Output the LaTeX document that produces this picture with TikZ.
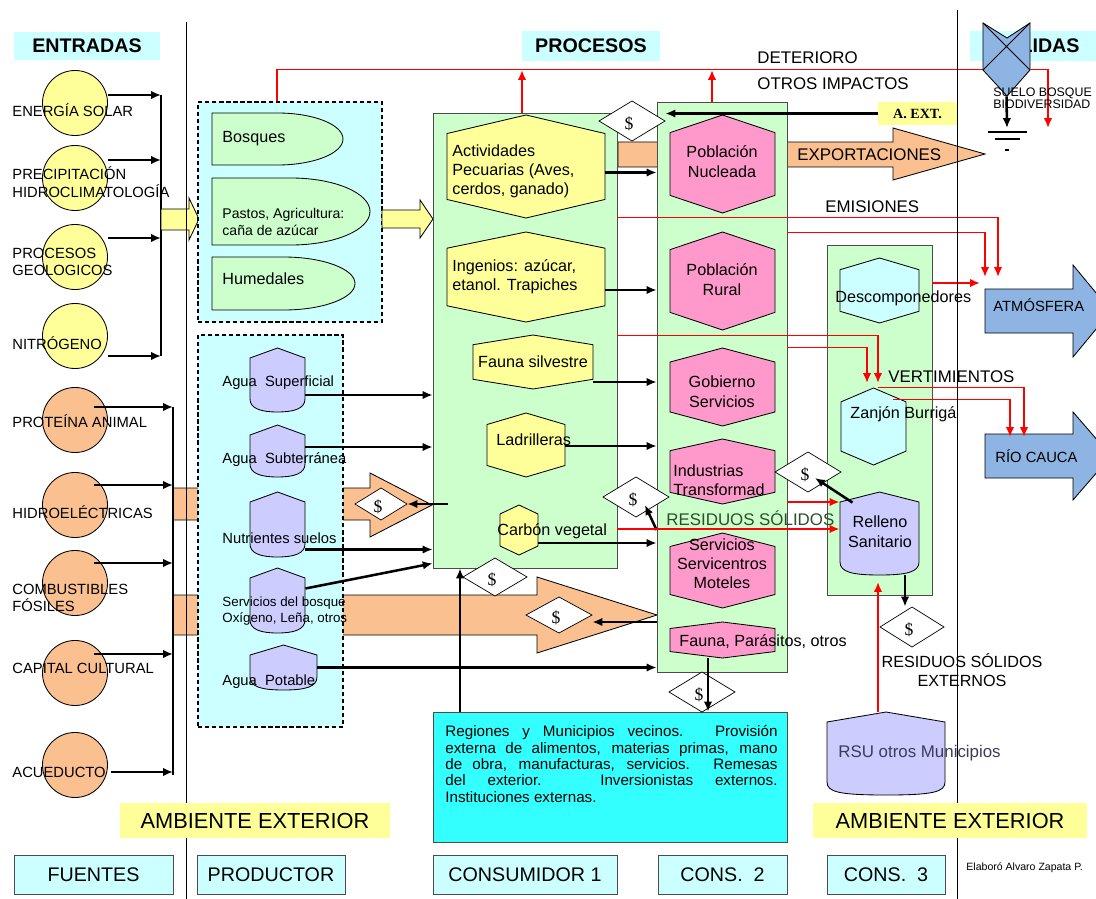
\documentclass[tikz,border=0pt]{standalone}
\usepackage{fontspec}
\setmainfont{Liberation Sans}
\newfontfamily\timesf{Liberation Serif}
\usetikzlibrary{arrows.meta,fit}

\definecolor{ltcyan}{HTML}{CCFFFF}
\definecolor{ltgreen}{HTML}{CCFFCC}
\definecolor{ltyellow}{HTML}{FFFF99}
\definecolor{peach}{HTML}{FAC090}
\definecolor{pinkhex}{HTML}{FF99CC}
\definecolor{lavender}{HTML}{CCCCFF}
\definecolor{aqua}{HTML}{33FFFF}
\definecolor{skyblue}{HTML}{8DB4E2}
\definecolor{rsugray}{HTML}{3C3C5A}
\definecolor{resgreen}{HTML}{2E4D2E}

\begin{document}
\begin{tikzpicture}[x=0.025cm, y=-0.025cm, line width=0.6pt,
    arr/.style={line width=1.8pt, -{Latex[length=7pt,width=6pt]}},
    redthin/.style={draw=red, line width=0.7pt},
    redarr/.style={draw=red, line width=1.6pt, -{Latex[length=7pt,width=6pt]}},
    area/.style={inner sep=0pt, draw=black!70},
    tag/.style={inner sep=0pt, anchor=west},
    fhead/.style={font=\bfseries\fontsize{14}{16}\selectfont},
    fsrc/.style={font=\fontsize{10.5}{12.5}\selectfont},
    fsmall/.style={font=\fontsize{10}{12}\selectfont},
    fsvc/.style={font=\fontsize{9.5}{12}\selectfont},
    fmid/.style={font=\fontsize{10.5}{12.5}\selectfont},
    fbig/.style={font=\fontsize{11.5}{13.5}\selectfont},
    fpink/.style={font=\fontsize{11.5}{14.2}\selectfont},
    fcap/.style={font=\fontsize{12}{14}\selectfont},
    flarge/.style={font=\fontsize{14}{16}\selectfont},
    fhuge/.style={font=\fontsize{15.5}{18}\selectfont},
    fsuelo/.style={font=\fontsize{8.8}{8.5}\selectfont},
    fregion/.style={font=\fontsize{10.8}{11.7}\selectfont},
    ftiny/.style={font=\fontsize{7.5}{8}\selectfont}]

\useasboundingbox (0,0) rectangle (1096,899);
\clip (0,0) rectangle (1096,899);

% shape macros: name, left, top, right, bottom, fill
\newcommand{\hexa}[6]{%
  \draw[fill=#6] ({(#2+#4)/2},#3) -- (#4,{#3+0.18*(#5-#3)}) -- (#4,{#5-0.18*(#5-#3)})
    -- ({(#2+#4)/2},#5) -- (#2,{#5-0.18*(#5-#3)}) -- (#2,{#3+0.18*(#5-#3)}) -- cycle;
  \node[fit={(#2,#3) (#4,#5)}, inner sep=0pt] (#1) {};
}
\newcommand{\tank}[6]{%
  \draw[fill=#6] ({(#2+#4)/2},#3) -- (#4,#3+10) -- (#4,#5-13)
    .. controls (#4,#5-3) and (#4-12,#5) .. ({(#2+#4)/2},#5)
    .. controls (#2+12,#5) and (#2,#5-3) .. (#2,#5-13) -- (#2,#3+10) -- cycle;
  \node[fit={(#2,#3) (#4,#5)}, inner sep=0pt] (#1) {};
}
\newcommand{\dshape}[6]{%
  \draw[fill=#6] (#2,#3) -- ({(#2+#4)/2},#3)
    .. controls ({(#2+#4)/2+0.276*(#4-#2)},#3) and (#4,{(#3+#5)/2-0.276*(#5-#3)}) .. (#4,{(#3+#5)/2})
    .. controls (#4,{(#3+#5)/2+0.276*(#5-#3)}) and ({(#2+#4)/2+0.276*(#4-#2)},#5) .. ({(#2+#4)/2},#5)
    -- (#2,#5) -- cycle;
  \node[fit={(#2,#3) (#4,#5)}, inner sep=0pt] (#1) {};
}
% money diamond: name, cx, cy, half width, half height
\newcommand{\money}[5]{%
  \draw[fill=white, line width=0.5pt] (#2-#4,#3) -- (#2,#3-#5) -- (#2+#4,#3) -- (#2,#3+#5) -- cycle;
  \node[fit={(#2-#4,#3-#5) (#2+#4,#3+#5)}, inner sep=0pt] (#1) {};
  \node[inner sep=0pt, font=\timesf\fontsize{12.5}{12}\selectfont] (#1-s) at ([shift={(-3,3)}]#1.center) {\$};
}
% arrow from a shape to the edge of a box
\newcommand{\feed}[3]{%
  \draw[arr] ([shift={(0,#2)}]#1.east) coordinate (tmp) -- (tmp -| #3.west);
}

% header boxes
\node[fit={(14,32) (160,60)}, inner sep=0pt, fill=ltcyan] (entr) {};
\node[fhead] (entr-t) at (entr) {ENTRADAS};
\node[fit={(522,31) (660,61)}, inner sep=0pt, fill=ltcyan] (proc) {};
\node[fhead] (proc-t) at (proc) {PROCESOS};
\node[fit={(970,31) (1096,61)}, inner sep=0pt, fill=ltcyan] (sali) {};
\node[anchor=east, inner sep=0pt, fhead] (salt) at (1080,46) {SALIDAS};

% orange bands, run under the producer box
\draw[fill=peach] (173,488) -- (370,488) -- (370,473) -- (432,505) -- (370,537) -- (370,520) -- (173,520) -- cycle;
\draw[fill=peach] (173,595) -- (537,595) -- (537,577) -- (657,615) -- (537,653) -- (537,635) -- (173,635) -- cycle;

% exportaciones
\draw[fill=peach] (618,142) -- (893,142) -- (893,128) -- (985,154) -- (893,180) -- (893,167) -- (618,167) -- cycle;
\node[tag, fcap] (expo) at (797,155) {EXPORTACIONES};

% outputs
\draw[fill=skyblue] (985,289) -- (1073,289) -- (1073,265) -- (1111,311) -- (1073,357) -- (1073,333) -- (985,333) -- cycle;
\node[tag, fmid] (atmo) at (993,305) {ATMÓSFERA};
\draw[fill=skyblue] (985,434) -- (1073,434) -- (1073,412) -- (1111,456) -- (1073,500) -- (1073,478) -- (985,478) -- cycle;
\node[tag, fmid] (rioc) at (995,456) {RÍO CAUCA};

% sources
\foreach \nm/\yy in {sol/103, pre/178, geo/257, nit/336}
  \node[circle, draw, fill=ltyellow, minimum size=1.625cm, inner sep=0pt] (c\nm) at (75,\yy) {};
\foreach \nm/\yy in {pro/420, hid/505, com/583, cap/673, acu/765}
  \node[circle, draw, fill=peach, minimum size=1.625cm, inner sep=0pt] (c\nm) at (75,\yy) {};

\node[tag, fsrc] (n-sol) at (12,110) {ENERGÍA SOLAR};
\node[tag, fsrc, align=left] (n-pre) at (12,182) {PRECIPITACIÓN\\HIDROCLIMATOLOGÍA};
\node[tag, fsrc, align=left] (n-geo) at (12,262) {PROCESOS\\GEOLOGICOS};
\node[tag, fsrc] (n-nit) at (12,343) {NITRÓGENO};
\node[tag, fsrc] (n-pro) at (12,421) {PROTEÍNA ANIMAL};
\node[tag, fsrc] (n-hid) at (12,512) {HIDROELÉCTRICAS};
\node[tag, fsrc, align=left] (n-com) at (12,598) {COMBUSTIBLES\\FÓSILES};
\node[tag, fsrc] (n-cap) at (12,668) {CAPITAL CULTURAL};
\node[tag, fsrc] (n-acu) at (12,772) {ACUEDUCTO};

% collecting lines
\coordinate (busa) at (161,95);
\coordinate (busb) at (173,407);
\draw[line width=1.4pt] (busa) -- (busa |- 0,356);
\draw[line width=1.4pt] (busb) -- (busb |- 0,775);
\foreach \nm/\dy in {sol/-8, pre/-18, geo/-19, nit/20}
  \draw[arr] ([shift={(0,\dy)}]c\nm.east) coordinate (tmp) -- (tmp -| busa);
\foreach \nm/\dx/\dy in {pro/-14/-13, hid/-14/-20, com/-14/-20, cap/-14/-19, acu/3/7}
  \draw[arr] ([shift={(\dx,\dy)}]c\nm.east) coordinate (tmp) -- (tmp -| busb);

% yellow arrow into the producers
\draw[fill=ltyellow] (161,209) -- (189,209) -- (189,198) -- (199,219) -- (189,240) -- (189,230) -- (161,230) -- cycle;

% producer boxes
\node[fit={(198,102) (382,322)}, inner sep=0pt, draw, line width=0.8pt, dash pattern=on 3pt off 2pt, fill=ltcyan] (prod1) {};
\node[fit={(198,335) (343,727)}, inner sep=0pt, draw, line width=0.8pt, dash pattern=on 3pt off 2pt, fill=ltcyan] (prod2) {};

\dshape{bosq}{212}{113}{343}{165}{ltgreen}
\dshape{past}{212}{178}{370}{245}{ltgreen}
\dshape{hume}{212}{257}{355}{310}{ltgreen}
\node[tag, fbig] (bosq-t) at (222,139) {Bosques};
\node[tag, fsmall, align=left] (past-t) at (222,222) {Pastos, Agricultura:\\caña de azúcar};
\node[tag, fbig] (hume-t) at (222,279) {Humedales};

\tank{asup}{250}{348}{305}{412}{lavender}
\tank{asub}{250}{425}{305}{477}{lavender}
\tank{nutr}{250}{492}{305}{557}{lavender}
\tank{serv}{250}{568}{305}{633}{lavender}
\tank{apot}{250}{645}{317}{690}{lavender}
\node[tag, fmid] (asup-t) at (222,383) {Agua\ \ Superficial};
\node[tag, fmid] (asub-t) at (222,460) {Agua\ \ Subterránea};
\node[tag, fmid] (nutr-t) at (222,538) {Nutrientes suelos};
\node[tag, fsvc, align=left] (serv-t) at (222,611) {Servicios del bosque\\Oxígeno, Leña, otros};
\node[tag, fmid] (apot-t) at (222,682) {Agua\ \ Potable};

% yellow arrow producers -> consumers
\draw[fill=ltyellow] (382,210) -- (420,210) -- (420,200) -- (433,219) -- (420,238) -- (420,228) -- (382,228) -- cycle;

% consumer boxes
\node[fit={(433,113) (617,568)}, area, fill=ltgreen] (cons1) {};
\node[fit={(657,102) (787,672)}, area, fill=ltgreen] (cons2) {};
\node[fit={(827,245) (932,595)}, area, fill=ltgreen] (cons3) {};

% consumer 1
\hexa{pecu}{447}{115}{605}{218}{ltyellow}
\hexa{inge}{447}{232}{605}{322}{ltyellow}
\hexa{faun}{473}{335}{593}{389}{ltyellow}
\hexa{ladr}{487}{413}{565}{477}{ltyellow}
\hexa{carb}{500}{505}{538}{555}{ltyellow}
\node[tag, fbig, align=left] (pecu-t) at (452,171) {Actividades\\Pecuarias (Aves,\\cerdos, ganado)};
\node[tag, fbig, align=left] (inge-t) at (452,277) {Ingenios: azúcar,\\etanol. Trapiches};
\node[inner sep=0pt, fbig] (faun-t) at (533,362) {Fauna silvestre};
\node[tag, fbig] (ladr-t) at (496,440) {Ladrilleras};
\node[tag, fbig] (carb-t) at (497,531) {Carbón vegetal};

% consumer 2
\hexa{nucl}{670}{115}{775}{213}{pinkhex}
\hexa{rura}{670}{232}{775}{330}{pinkhex}
\hexa{gobi}{670}{348}{775}{426}{pinkhex}
\hexa{indu}{670}{439}{775}{504}{pinkhex}
\hexa{serc}{670}{533}{775}{608}{pinkhex}
\hexa{fpar}{670}{622}{775}{658}{pinkhex}
\node[inner sep=0pt, fpink, align=center] (nucl-t) at (722,162) {Población\\Nucleada};
\node[inner sep=0pt, fpink, align=center] (rura-t) at (722,280) {Población\\Rural};
\node[inner sep=0pt, fpink, align=center] (gobi-t) at (722,392) {Gobierno\\Servicios};
\node[tag, fbig, align=left] (indu-t) at (673,480) {Industrias\\Transformad};
\node[inner sep=0pt, fbig, align=center] (serc-t) at (722,564) {Servicios\\Servicentros\\Moteles};
\node[tag, fbig] (fpar-t) at (679,642) {Fauna, Parásitos, otros};

% consumer 3
\hexa{desc}{840}{258}{919}{323}{ltcyan}
\hexa{zanj}{841}{388}{906}{465}{ltcyan}
\tank{rell}{840}{492}{919}{575}{lavender}
\node[tag, fbig] (desc-t) at (835,298) {Descomponedores};
\node[tag, fbig] (zanj-t) at (850,414) {Zanjón Burrigá};
\node[inner sep=0pt, fpink, align=center] (rell-t) at (880,532) {Relleno\\Sanitario};

% outside region
\tank{rsu}{827}{712}{945}{795}{lavender}
\node[tag, fcap, text=rsugray] (rsu-t) at (838,753) {RSU otros Municipios};
\node[fit={(433,712) (787,842)}, area, fill=aqua] (regi) {};
\node[anchor=north west, inner sep=0pt, text width=8.3cm, align=justify, fregion] (regi-t) at (445,725)
  {Regiones y Municipios vecinos. Provisión\linebreak externa de alimentos, materias primas, mano\linebreak
   de obra, manufacturas, servicios. Remesas\linebreak del exterior. Inversionistas externos.\linebreak
   Instituciones externas.};

% money exchanges
\money{dia1}{632}{121}{33}{20}
\money{dia2}{381}{504}{26}{16}
\money{dia3}{559}{615}{33}{18}
\money{dia4}{636}{497}{33}{20}
\money{dia5}{808}{472}{33}{20}
\money{dia6}{495}{577}{32}{19}
\money{dia7}{702}{692}{33}{20}
\money{dia8}{912}{627}{32}{20}

% A. EXT.
\node[fit={(878,102) (957,125)}, inner sep=0pt, fill=ltyellow] (aext) {};
\node[font=\timesf\bfseries\fontsize{10}{10}\selectfont] (aext-t) at (aext) {A. EXT.};

% black flows
\feed{asup}{15}{cons1}
\feed{asub}{-4}{cons1}
\feed{nutr}{25}{cons1}
\draw[arr] ([shift={(0,-12)}]serv.east) -- ([shift={(0,-5)}]cons1.south west);
\feed{apot}{0}{cons2}
\feed{pecu}{6}{cons2}
\feed{inge}{13}{cons2}
\feed{faun}{20}{cons2}
\feed{ladr}{1}{cons2}
\feed{carb}{13}{cons2}
\draw[arr] (aext.west) -- (aext.west -| dia1.east);
\draw[arr] (dia2.east -| 448,0) -- (dia2.east);
\draw[arr] (cons2.west |- 0,622) -- (dia3.east |- 0,622);
\draw[arr] (cons2.west |- 0,530) -- ([shift={(9,8)}]dia4.center);
\draw[arr] ([shift={(-27,11)}]rell.north) -- ([shift={(7,6)}]dia5.center);
\draw[arr] (regi.north -| 460,0) -- (cons1.south -| 460,0);
\draw[arr] (fpar.south -| 708,0) -- (regi.north -| 708,0);
\draw[arr] (rell.south -| 905,0) -- (dia8.north -| 905,0);

% deterioro
\coordinate (deta) at (277,69);
\coordinate (detb) at (1048,69);
\draw[draw=red, line width=1.6pt] (prod1.north -| deta) -- (deta);
\draw[redthin] (deta) -- (detb);
\draw[redarr] (detb) -- ++(0,59);
\draw[redarr] (cons1.north -| 522,0) -- (522,70);
\draw[redarr] (cons2.north -| 712,0) -- (712,70);
\node[tag, fcap] (dete) at (757,58) {DETERIORO};
\node[tag, fcap] (otro) at (757,84) {OTROS IMPACTOS};

% emisiones
\draw[redthin] (cons1.east |- 0,217) -- (998,217);
\draw[redarr] (998,217) -- (998,277);
\draw[redthin] (cons2.east |- 0,232) -- (985,232);
\draw[redarr] (985,232) -- (985,277);
\draw[redarr] (cons3.east |- 0,283) -- (980,283);
\node[tag, fcap] (emis) at (825,207) {EMISIONES};

% vertimientos
\draw[redthin] (cons1.east |- 0,335) -- (878,335);
\draw[redarr] (878,335) -- (878,383);
\draw[redthin] (cons2.east |- 0,347) -- (867,347);
\draw[redarr] (867,347) -- (867,383);
\draw[redthin] (878,387) -- (1024,387);
\draw[redarr] (1024,387) -- (1024,437);
\draw[redthin] (893,399) -- (1010,399);
\draw[redarr] (1010,399) -- (1010,437);
\node[tag, fcap] (vert) at (888,377) {VERTIMIENTOS};

% residuos solidos
\draw[redarr] (cons2.east |- 0,502) -- (rell.west |- 0,502);
\draw[redarr] (cons1.east |- 0,529) -- (rell.west |- 0,529);
\node[tag, fcap, text=resgreen] (resi) at (666,518) {RESIDUOS SÓLIDOS};
\draw[redarr] (rsu.north -| 878,0) -- (878,582);
\node[inner sep=0pt, fbig, align=center] (rext) at (962,670) {RESIDUOS SÓLIDOS\\EXTERNOS};

% suelo, bosque
\draw[fill=skyblue] (983,23) -- (1007,38) -- (1030,23) -- (1030,70) -- (1007,96) -- (983,70) -- cycle;
\draw (983,23) -- (1030,70) (1030,23) -- (983,70);
\node[fit={(983,23) (1030,96)}, inner sep=0pt] (suel) {};
\coordinate (grnd) at (1007,128);
\draw[arr] (suel.south) -- (grnd);
\draw[line width=1.2pt] (988,132) -- (1027,132) (995,139) -- (1020,139);
\draw[line width=0.8pt] (1005,150) -- (1009,150);
\node[tag, fsuelo, align=left] (suel-t) at (993,98) {SUELO BOSQUE\\BIODIVERSIDAD};
\draw[redthin] (1030,69) -- (detb);

% separators
\draw (186,22) -- (186,899);
\draw (957,10) -- (957,899);

% ambiente exterior
\node[fit={(120,803) (390,838)}, inner sep=0pt, fill=ltyellow] (amb1) {};
\node[fhuge] (amb1-t) at (amb1) {AMBIENTE EXTERIOR};
\node[fit={(813,803) (1087,838)}, inner sep=0pt, fill=ltyellow] (amb2) {};
\node[fhuge] (amb2-t) at (amb2) {AMBIENTE EXTERIOR};

% level labels
\foreach \nm/\xa/\xb/\txt in {fuen/14/173/FUENTES, prdl/197/345/PRODUCTOR, cn1l/433/617/CONSUMIDOR 1,
    cn2l/658/787/{CONS.\ \ 2}, cn3l/827/945/{CONS.\ \ 3}}
{
  \node[fit={(\xa,855) (\xb,894)}, area, fill=ltcyan] (\nm) {};
  \node[flarge] (\nm-t) at (\nm) {\txt};
}
\node[tag, ftiny] (auth) at (966,868) {Elaboró Alvaro Zapata P.};

\end{tikzpicture}
\end{document}
